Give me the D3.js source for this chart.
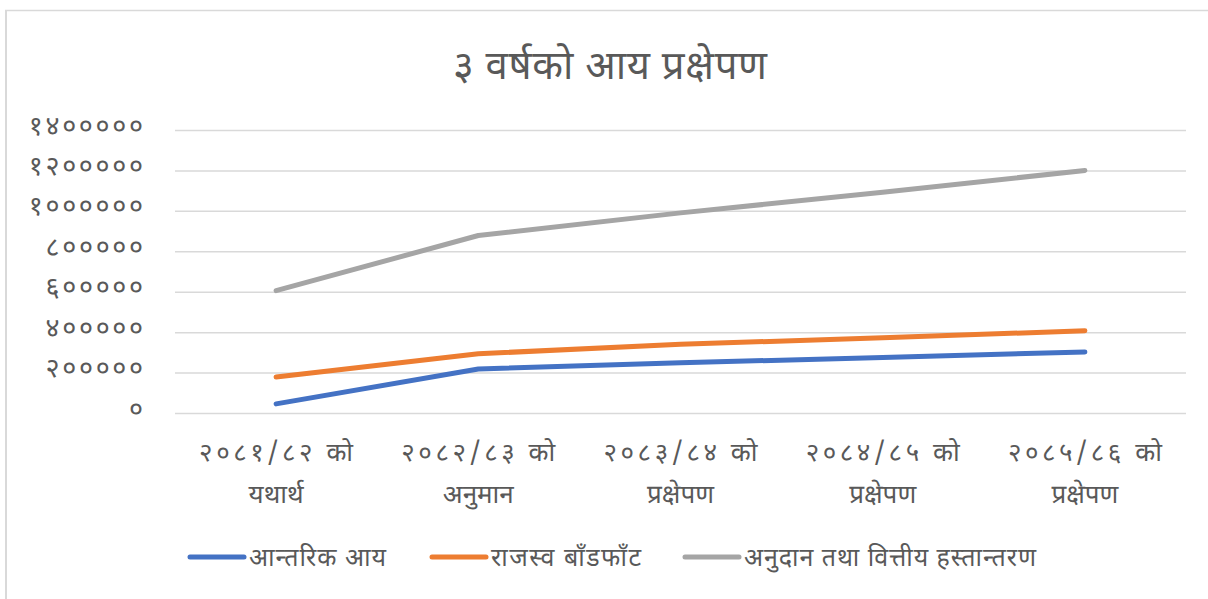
<!DOCTYPE html>
<html>
<head>
<meta charset="utf-8">
<script src="https://cdn.jsdelivr.net/npm/d3@7"></script>
<style>
  body { margin: 0; background: #fff; }
  svg text { font-family: "Noto Sans Devanagari", "Noto Sans", "Lohit Devanagari", sans-serif; fill: #595959; }
</style>
</head>
<body>
<svg width="1208" height="599"></svg>
<script>
const title = '३ वर्षको आय प्रक्षेपण';
const categories = [
  ['२०८१/८२ को', 'यथार्थ'],
  ['२०८२/८३ को', 'अनुमान'],
  ['२०८३/८४ को', 'प्रक्षेपण'],
  ['२०८४/८५ को', 'प्रक्षेपण'],
  ['२०८५/८६ को', 'प्रक्षेपण'],
];
const seriesNames = ['आन्तरिक आय', 'राजस्व बाँडफाँट', 'अनुदान तथा वित्तीय हस्तान्तरण'];
const internalIncome = [45000, 218000, 248000, 275000, 302000];
const revenueSharing = [178000, 293000, 340000, 372000, 407000];
const grantsTransfer = [605000, 878000, 990000, 1092000, 1200000];
const yTicks = [0, 200000, 400000, 600000, 800000, 1000000, 1200000, 1400000];
const colors = ['#4472C4', '#ED7D31', '#A5A5A5'];

const devDigits = '०१२३४५६७८९';
const toDev = s => String(s).replace(/[0-9]/g, d => devDigits[+d]);

const svg = d3.select('svg');

// chart frame (only top and left edges visible)
svg.append('line').attr('x1', 5).attr('x2', 1208).attr('y1', 10.5).attr('y2', 10.5)
  .attr('stroke', '#d9d9d9').attr('stroke-width', 1.5);
svg.append('line').attr('x1', 6).attr('x2', 6).attr('y1', 10).attr('y2', 599)
  .attr('stroke', '#d9d9d9').attr('stroke-width', 2);

const margin = {left: 175, right: 1186, top: 130, bottom: 413};

const x = d3.scaleBand()
  .domain(d3.range(categories.length))
  .range([margin.left, margin.right]);
const y = d3.scaleLinear()
  .domain([0, 1400000])
  .range([margin.bottom, margin.top]);

// title
svg.append('text')
  .attr('x', 610).attr('y', 79)
  .attr('text-anchor', 'middle')
  .attr('textLength', 314)
  .attr('lengthAdjust', 'spacing')
  .style('font-size', '40px')
  .text(title);

// gridlines + y labels
const yAxis = d3.axisLeft(y).tickValues(yTicks)
  .tickSize(-(margin.right - margin.left))
  .tickPadding(32)
  .tickFormat(d => toDev(d));
const gy = svg.append('g')
  .attr('transform', `translate(${margin.left},0)`)
  .call(yAxis);
gy.select('.domain').remove();
gy.selectAll('.tick line').attr('stroke', '#d9d9d9').attr('stroke-width', 1.5);
gy.selectAll('.tick text').style('font-size', '27px').attr('fill', '#595959')
  .attr('dy', '0.15em')
  .attr('textLength', d => toDev(d).length * 16.9 - 4)
  .attr('lengthAdjust', 'spacing');

// x labels
const gx = svg.append('g');
categories.forEach((c, i) => {
  const cx = x(i) + x.bandwidth() / 2;
  gx.append('text').attr('text-anchor', 'middle').style('font-size', '26px')
    .attr('x', cx).attr('y', 461)
    .attr('textLength', 154).attr('lengthAdjust', 'spacing')
    .text(c[0]);
  gx.append('text').attr('text-anchor', 'middle').style('font-size', '26px')
    .attr('x', cx).attr('y', 503)
    .text(c[1]);
});

// lines
const allSeries = [internalIncome, revenueSharing, grantsTransfer];
const line = d3.line()
  .x((d, i) => x(i) + x.bandwidth() / 2)
  .y(d => y(d));
allSeries.forEach((s, k) => {
  svg.append('path')
    .datum(s)
    .attr('d', line)
    .attr('fill', 'none')
    .attr('stroke', colors[k])
    .attr('stroke-width', 5)
    .attr('stroke-linecap', 'round')
    .attr('stroke-linejoin', 'round');
});

// legend
const legend = svg.append('g');
const legendStarts = [190, 432, 685];
const legendWidths = [137, 150, 292];
seriesNames.forEach((name, k) => {
  const lx = legendStarts[k];
  legend.append('line')
    .attr('x1', lx).attr('x2', lx + 54)
    .attr('y1', 557).attr('y2', 557)
    .attr('stroke', colors[k]).attr('stroke-width', 5)
    .attr('stroke-linecap', 'round');
  legend.append('text')
    .attr('x', lx + 59).attr('y', 566)
    .attr('textLength', legendWidths[k])
    .attr('lengthAdjust', 'spacing')
    .style('font-size', '25px')
    .text(name);
});
</script>
</body>
</html>
